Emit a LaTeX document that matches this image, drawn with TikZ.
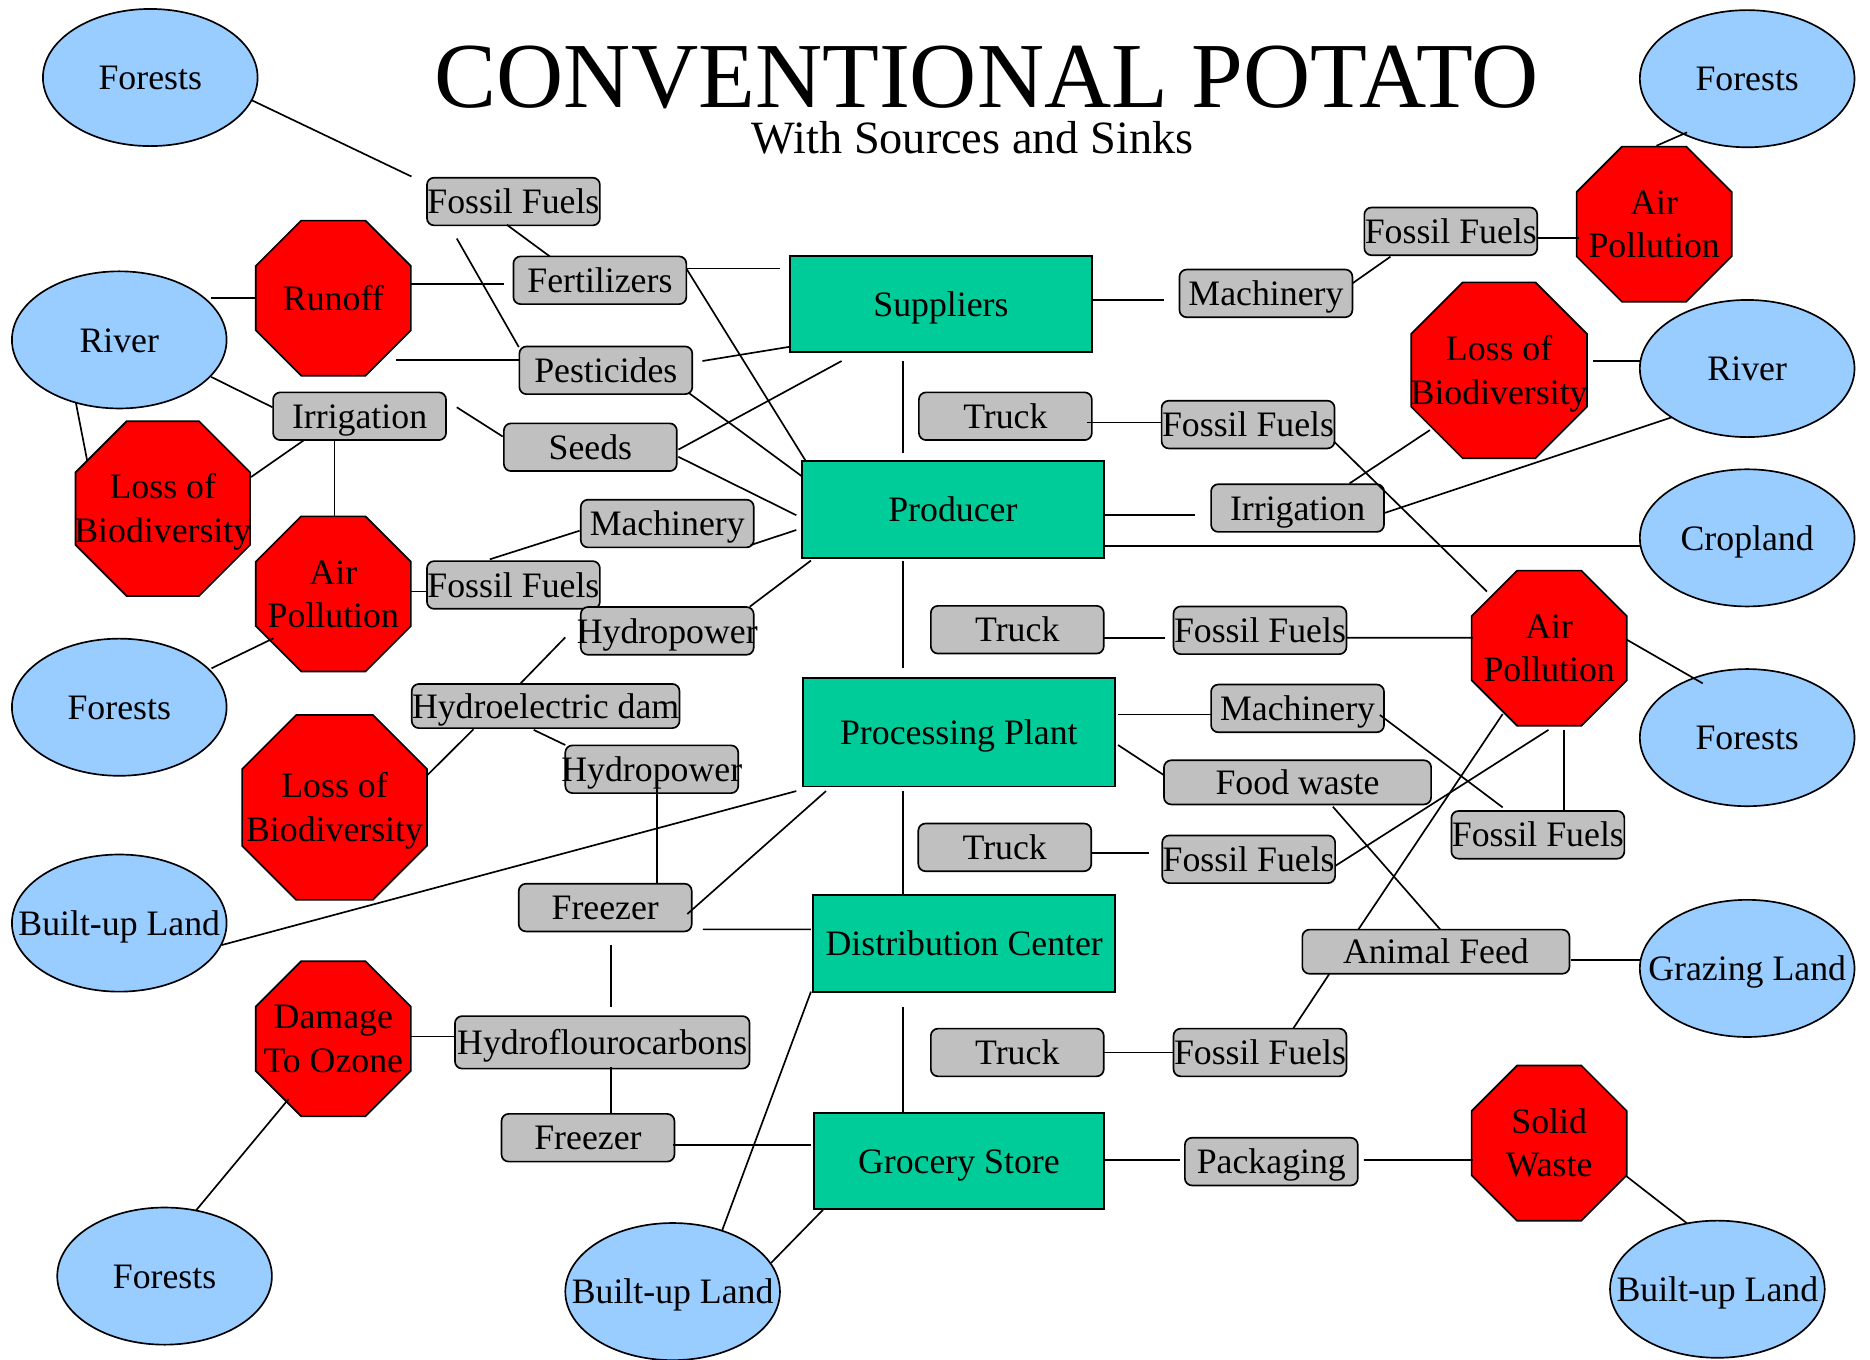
\documentclass[tikz,border=0pt]{standalone}
\usepackage{fontspec}
\setmainfont{Liberation Serif}
\usetikzlibrary{shapes.geometric,calc}
\definecolor{skyb}{HTML}{99CCFF}
\definecolor{redc}{HTML}{FF0000}
\definecolor{tealc}{HTML}{00CC99}
\definecolor{grayc}{HTML}{C0C0C0}
\newcommand{\zw}[1]{\makebox[0pt]{#1}}
\newcommand{\twol}[2]{\makebox[0pt]{\begin{tabular}[t]{@{}c@{}}#1\\#2\end{tabular}}}
\newcommand{\lnk}[4]{\draw[con] ($(#1.center)+(#2)$) -- ($(#3.center)+(#4)$);}
\begin{document}
\begin{tikzpicture}[x=0.5pt,y=-0.5pt,
  txt/.style={font=\fontsize{15}{18.3}\selectfont},
  ell/.style={txt,ellipse,draw,line width=0.7pt,fill=skyb,minimum width=90pt,minimum height=57.5pt,inner sep=0pt,text height=10.2pt,text depth=0pt},
  oct/.style={txt,regular polygon,regular polygon sides=8,draw,line width=0.7pt,fill=redc,inner sep=0pt,minimum size=70.4pt,text height=5pt,text depth=13.3pt},
  tbox/.style={txt,rectangle,draw,line width=0.8pt,fill=tealc,inner sep=0pt,minimum width=126.5pt,minimum height=40.5pt,text height=10.2pt,text depth=0pt},
  gbox/.style={txt,rectangle,rounded corners=3pt,draw,line width=0.7pt,fill=grayc,inner sep=0pt,minimum width=72.5pt,minimum height=20pt,text height=10.2pt,text depth=0pt},
  con/.style={line width=0.7pt}]
\fill[white] (0,0) rectangle (1568,1140);
\path[use as bounding box] (0,0) rectangle (1568,1140);

% title
\node[anchor=base,font=\fontsize{39}{41}\selectfont,inner sep=0pt,text depth=0pt] (title) at (827.5,90) {CONVENTIONAL POTATO};
\node[anchor=base,font=\fontsize{19.4}{22}\selectfont,inner sep=0pt,text height=12.8pt] (subtitle) at (815.5,129) {With Sources and Sinks};

% ellipses
\node[ell] (fTL) at (126,65) {\zw{Forests}};
\node[ell] (rivL) at (100,285) {\zw{River}};
\node[ell] (fL) at (100,593) {\zw{Forests}};
\node[ell] (bL) at (100,774) {\zw{Built-up Land}};
\node[ell] (fBL) at (138,1070) {\zw{Forests}};
\node[ell] (bB) at (564,1083) {\zw{Built-up Land}};
\node[ell] (fTR) at (1465,66) {\zw{Forests}};
\node[ell] (rivR) at (1465,309) {\zw{River}};
\node[ell] (crop) at (1465,451) {\zw{Cropland}};
\node[ell] (fR) at (1465,618.5) {\zw{Forests}};
\node[ell] (graze) at (1465,812) {\zw{Grazing Land}};
\node[ell] (bBR) at (1440,1081) {\zw{Built-up Land}};

% octagons
\node[oct,text height=10.2pt,text depth=0pt] (runoff) at (279.5,250) {\zw{Runoff}};
\node[oct,minimum size=79.3pt] (lossL) at (136.5,426.5) {\twol{Loss of}{Biodiversity}};
\node[oct] (airL) at (279.5,498) {\twol{Air}{Pollution}};
\node[oct,minimum size=83.9pt] (lossL2) at (280.5,677) {\twol{Loss of}{Biodiversity}};
\node[oct] (ozone) at (279.5,871) {\twol{Damage}{To Ozone}};
\node[oct] (airTR) at (1387,188) {\twol{Air}{Pollution}};
\node[oct,minimum size=79.8pt] (lossR) at (1257,310.5) {\twol{Loss of}{Biodiversity}};
\node[oct] (airR) at (1299,543.5) {\twol{Air}{Pollution}};
\node[oct] (solid) at (1299,958.5) {\twol{Solid}{Waste}};

% main chain
\node[tbox] (supp) at (789,255) {Suppliers};
\node[tbox] (prod) at (799,427) {Producer};
\node[tbox,minimum width=131pt,minimum height=45.5pt] (proc) at (804,614) {Processing Plant};
\node[tbox] (dist) at (808.5,791) {Distribution Center};
\node[tbox,minimum width=121.5pt] (groc) at (804,973.5) {Grocery Store};

% grey boxes left
\node[gbox] (ffTop) at (430.5,169) {\zw{Fossil Fuels}};
\node[gbox] (fert) at (503,235) {\zw{Fertilizers}};
\node[gbox] (pest) at (508,310.5) {\zw{Pesticides}};
\node[gbox] (irrL) at (301.5,349) {\zw{Irrigation}};
\node[gbox] (seeds) at (495,375) {\zw{Seeds}};
\node[gbox] (machL) at (559.5,439) {\zw{Machinery}};
\node[gbox] (ffL) at (430.5,490.5) {\zw{Fossil Fuels}};
\node[gbox] (hydro1) at (559.5,529) {\zw{Hydropower}};
\node[gbox,minimum width=112.25pt,minimum height=18.5pt] (dam) at (457.5,592) {\zw{Hydroelectric dam}};
\node[gbox] (hydro2) at (546.5,645) {\zw{Hydropower}};
\node[gbox] (frz1) at (507.5,761) {\zw{Freezer}};
\node[gbox,minimum width=123.5pt,minimum height=22pt] (hfc) at (505,874) {\zw{Hydroflourocarbons}};
\node[gbox] (frz2) at (493,954) {\zw{Freezer}};

% grey boxes right
\node[gbox] (ffTR) at (1216.5,194) {\zw{Fossil Fuels}};
\node[gbox] (machTR) at (1061.5,246) {\zw{Machinery}};
\node[gbox] (truck1) at (843,349) {\zw{Truck}};
\node[gbox] (ff1) at (1046.5,356) {\zw{Fossil Fuels}};
\node[gbox] (irrR) at (1088,426) {\zw{Irrigation}};
\node[gbox] (truck2) at (853,528) {\zw{Truck}};
\node[gbox] (ff2) at (1056.5,528.5) {\zw{Fossil Fuels}};
\node[gbox] (machR) at (1088,594) {\zw{Machinery}};
\node[gbox,minimum width=112pt,minimum height=18.5pt] (food) at (1088,656) {\zw{Food waste}};
\node[gbox] (truck3) at (842.5,710.5) {\zw{Truck}};
\node[gbox] (ff3) at (1047,720.5) {\zw{Fossil Fuels}};
\node[gbox] (ffR) at (1289.5,700) {\zw{Fossil Fuels}};
\node[gbox,minimum width=112pt,minimum height=18.5pt] (animal) at (1204,798) {\zw{Animal Feed}};
\node[gbox] (truck4) at (853,882.5) {\zw{Truck}};
\node[gbox] (ff4) at (1056.5,882.5) {\zw{Fossil Fuels}};
\node[gbox] (pack) at (1066,974) {\zw{Packaging}};

% connectors
\lnk{fTL}{85,19}{ffTop}{-85.5,-21}
\lnk{ffTop}{-5.5,19.5}{fert}{-42,-20}
\lnk{ffTop}{-47.5,31}{pest}{-73,-19.5}
\lnk{rivL}{77,-35}{runoff}{-65,0}
\lnk{runoff}{64.5,-12}{fert}{-80,3}
\lnk{runoff}{52.5,52}{pest}{-73,-8.5}
\lnk{rivL}{77,31}{irrL}{-73,-7.5}
\lnk{rivL}{-36.4,52.6}{lossL}{-63.5,-40.8}
\lnk{irrL}{81.5,-7.5}{seeds}{-73.5,-9}
\lnk{irrL}{-46.5,20}{lossL}{74,-26.5}
\lnk{irrL}{-21,20}{airL}{1,-65}
\lnk{fert}{73,-10}{supp}{-135,-30}
\lnk{fert}{73,-9}{prod}{-123.4,-40.5}
\lnk{pest}{81,-7.8}{supp}{-126.4,35.7}
\lnk{pest}{70,19.3}{prod}{-126.2,-27.3}
\lnk{seeds}{73.8,2}{supp}{-83.3,47.7}
\lnk{seeds}{73.8,8}{prod}{-131.3,5}
\lnk{machL}{70,18}{prod}{-131.3,17.4}
\lnk{machL}{-73.5,6}{ffL}{-19.8,-21.5}
\lnk{ffL}{-73,5.5}{airL}{65.5,-2}
\lnk{airL}{-50.2,37.2}{fL}{77.3,-32.6}
\lnk{hydro1}{69.2,-20.3}{prod}{-119,43}
\lnk{hydro1}{-85.5,5.4}{dam}{-21,-19}
\lnk{dam}{-60.5,19.5}{lossL2}{77.8,-27}
\lnk{dam}{-10,20}{hydro2}{-72.5,-20.3}
\lnk{hydro2}{4.2,14.6}{frz1}{43.2,-20}
\lnk{proc}{-136.3,49.3}{bL}{86,18.4}
\lnk{proc}{-111.4,49.3}{frz1}{68.8,5.4}
\lnk{frz1}{81.9,18.3}{dist}{-128.5,-11.7}
\lnk{frz1}{4.8,31.4}{hfc}{7.3,-30}
\lnk{hfc}{-123.6,-5}{ozone}{65.5,-2}
\lnk{hfc}{7.3,21}{frz2}{19.3,-20}
\lnk{ozone}{-37.5,50.5}{fBL}{26.3,-55}
\lnk{frz2}{71.3,6}{groc}{-124,-13.5}
\lnk{dist}{-128.5,40.5}{bB}{41.4,-51}
\lnk{groc}{-114,41}{bB}{82.5,-24}
\lnk{supp}{-32,48}{prod}{-42,-47}
\lnk{prod}{-42,43}{proc}{-47,-53.6}
\lnk{proc}{-47,49.3}{dist}{-51.5,-40}
\lnk{dist}{-51.5,53}{groc}{-47,-40.5}
\lnk{supp}{126.8,-3.4}{machTR}{-85.5,5.6}
\lnk{machTR}{72.5,-8.4}{ffTR}{-50.6,21.2}
\lnk{ffTR}{72.5,5.8}{airTR}{-63,11.8}
\lnk{airTR}{2,-65.8}{fTR}{-50.4,45}
\lnk{lossR}{78.7,-7.8}{rivR}{-90,-6.3}
\lnk{truck1}{68.7,5.4}{ff1}{-73.2,-1.6}
\lnk{ff1}{72.1,14.3}{airR}{-52.2,-47.5}
\lnk{irrR}{43.6,-20.7}{lossR}{-58,50.1}
\lnk{irrR}{73.3,4}{rivR}{-63.4,41}
\lnk{prod}{126.5,4.8}{irrR}{-85.6,5.8}
\lnk{prod}{126.5,30.8}{crop}{-90,6.8}
\lnk{truck2}{72.5,6.7}{ff2}{-79.7,6.2}
\lnk{ff2}{72.4,6.2}{airR}{-64,-8.8}
\lnk{airR}{64.4,-7.5}{fR}{-37.3,-45.5}
\lnk{proc}{133.5,-15}{machR}{-73,5}
\lnk{proc}{133.5,10.7}{food}{-112,-6}
\lnk{machR}{69,5.5}{ffR}{-29.5,-23}
\lnk{airR}{12.3,68.5}{ffR}{21.8,-20}
\lnk{airR}{-0.6,68.5}{ff3}{72.7,5.5}
\lnk{airR}{-39,55.2}{animal}{-65,-18.7}
\lnk{food}{29.6,20.4}{animal}{3.6,-18.7}
\lnk{truck3}{72.7,5}{ff3}{-83.2,-5}
\lnk{animal}{113,7}{graze}{-89.7,-7}
\lnk{animal}{-89.4,18.7}{ff4}{27.9,-20.2}
\lnk{truck4}{72.5,0}{ff4}{-72.5,0}
\lnk{groc}{121.5,-0.8}{pack}{-76.6,-1.3}
\lnk{pack}{77.6,-1.3}{solid}{-64,14.2}
\lnk{solid}{64.4,27.5}{bBR}{-25.4,-55.2}
\end{tikzpicture}
\end{document}
